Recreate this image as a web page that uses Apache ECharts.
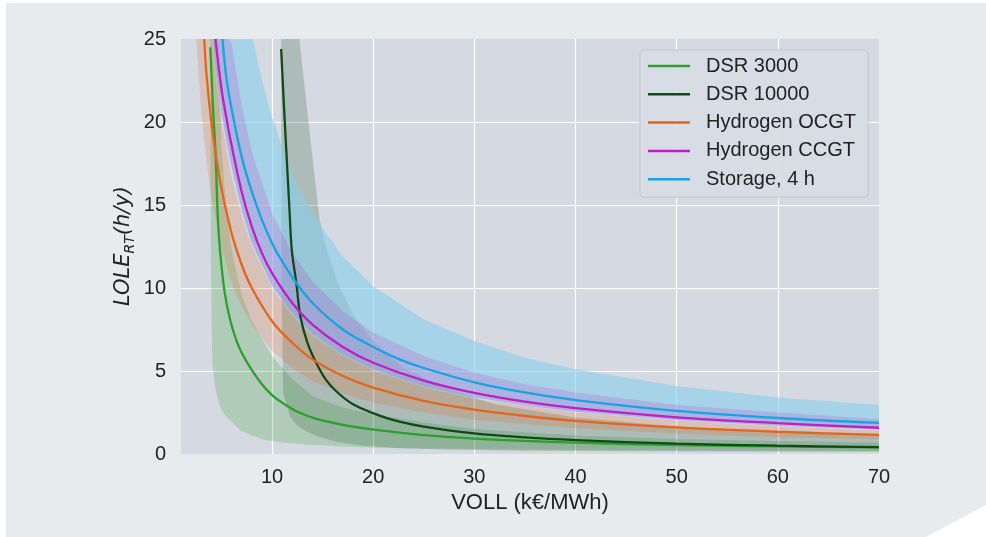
<!DOCTYPE html>
<html>
<head>
<meta charset="utf-8">
<script src="https://cdn.jsdelivr.net/npm/echarts@6/dist/echarts.min.js"></script>
<style>
  html, body { margin: 0; padding: 0; background: #ffffff; }
  #bg {
    position: absolute; left: 6px; top: 3px; width: 980px; height: 534px;
    background: #e8ebee;
    clip-path: polygon(0 0, 980px 0, 980px 502px, 920px 534px, 0 534px);
  }
  #chart { position: absolute; left: 0; top: 0; width: 986px; height: 537px; }
</style>
</head>
<body>
<div id="bg"></div>
<div id="chart"></div>
<script>
// lines
var dsr3kX = [3.9, 4.15, 4.4, 4.65, 4.85, 5.3, 5.85, 6.5, 7.0, 7.8, 9.0, 10.0, 11.1, 12.5, 14.4, 17, 20.7, 25, 30, 35, 40, 50, 60, 70];
var dsr3kY = [24.5, 21, 18.3, 14.1, 12.3, 9.8, 8.1, 6.8, 6.1, 5.25, 4.2, 3.55, 3.05, 2.55, 2.12, 1.76, 1.42, 1.14, 0.93, 0.79, 0.68, 0.54, 0.46, 0.4];
var dsr10kX = [10.9, 11.15, 11.4, 11.7, 11.95, 12.4, 12.8, 13.5, 14.4, 15.3, 16.4, 18, 20.7, 22.6, 25, 30, 35, 40, 50, 60, 70];
var dsr10kY = [24.4, 21.3, 18.4, 15, 12.3, 10.3, 8.3, 6.7, 5.45, 4.5, 3.75, 3.0, 2.3, 1.95, 1.65, 1.24, 1.0, 0.84, 0.62, 0.5, 0.41];
var ocgtX = [3.3, 3.5, 4, 4.5, 5, 6, 7, 8, 10, 12, 14, 17, 20, 25, 30, 35, 40, 50, 60, 70];
var ocgtY = [25, 23, 20, 17.8, 16, 13.3, 11.4, 10, 8, 6.7, 5.7, 4.7, 4.0, 3.2, 2.67, 2.29, 2.0, 1.6, 1.34, 1.15];
var ccgtX = [4.4, 5, 5.5, 6, 7, 8, 9, 10, 12, 14, 17, 20, 25, 30, 35, 40, 50, 60, 70];
var ccgtY = [25, 22, 20.2, 18.6, 15.8, 13.7, 12.1, 10.9, 9.1, 7.8, 6.45, 5.5, 4.42, 3.68, 3.15, 2.76, 2.21, 1.86, 1.58];
var storX = [5.1, 5.5, 6, 7, 8, 9, 10, 11, 12.4, 14, 17, 20, 22.6, 25, 30, 35, 40, 50, 60, 70];
var storY = [25, 22.6, 20.8, 17.9, 15.8, 14.1, 12.7, 11.6, 10.3, 9.1, 7.5, 6.45, 5.7, 5.18, 4.32, 3.71, 3.25, 2.6, 2.17, 1.87];

// shaded ranges: upper edge and lower edge
var dsr3kUpX = [3.9, 4.7, 5, 5.5, 6, 7, 8, 10, 12, 14, 17, 20, 25, 30, 40, 50, 60, 70];
var dsr3kUpY = [25, 25, 18.5, 14.5, 12.3, 9.6, 8.0, 5.9, 4.5, 3.5, 2.8, 2.4, 1.9, 1.5, 1.12, 0.9, 0.78, 0.68];
var dsr3kLoX = [3.9, 3.95, 4.1, 4.4, 4.85, 5.2, 5.7, 6.2, 6.8, 8, 9.1, 11, 14.1, 17, 20.7, 25, 30.5, 40, 50, 60, 70];
var dsr3kLoY = [25, 12, 5.4, 3.9, 2.85, 2.45, 2.1, 1.85, 1.45, 1.1, 0.88, 0.7, 0.54, 0.45, 0.38, 0.33, 0.3, 0.25, 0.22, 0.2, 0.18];
var dsr10kUpX = [10.9, 12.7, 13.6, 14.7, 15.4, 16.5, 18, 20, 23, 27, 32, 40, 50, 60, 70];
var dsr10kUpY = [25, 25, 20, 14.1, 12.3, 10.3, 8.4, 6.8, 5.2, 4.0, 3.0, 2.2, 1.65, 1.35, 1.15];
var dsr10kLoX = [10.9, 10.95, 11.1, 11.8, 12.5, 13.4, 14.8, 16.4, 19, 22.6, 27, 35, 45, 55, 70];
var dsr10kLoY = [25, 10, 3.66, 2.25, 1.7, 1.35, 1.0, 0.74, 0.5, 0.34, 0.27, 0.2, 0.17, 0.15, 0.13];
var ocgtUpX = [2.5, 4.0, 4.5, 5, 6, 7, 8, 10, 12, 14, 17, 20, 25, 30, 40, 50, 60, 70];
var ocgtUpY = [25, 25, 22.2, 20, 16.7, 14.3, 12.5, 10, 8.3, 7.1, 5.9, 5.0, 4.0, 3.3, 2.5, 2.0, 1.65, 1.42];
var ocgtLoX = [2.5, 3, 3.5, 4, 5, 6, 7, 8, 10, 12, 14, 17, 20, 25, 30, 40, 50, 60, 70];
var ocgtLoY = [25, 20.7, 17.7, 15.5, 12.4, 10.3, 8.9, 7.8, 6.2, 5.2, 4.4, 3.65, 3.1, 2.5, 2.07, 1.55, 1.24, 1.0, 0.88];
var ccgtUpX = [4.1, 5.8, 6, 7, 8, 10, 12, 14, 17, 20, 25, 30, 35, 40, 50, 60, 70];
var ccgtUpY = [25, 25, 24.7, 21, 18.2, 14.5, 12.1, 10.4, 8.6, 7.3, 5.9, 4.9, 4.2, 3.7, 2.95, 2.5, 2.1];
var ccgtLoX = [4.1, 4.4, 5, 5.5, 6, 7, 8, 10, 12, 14, 17, 20, 25, 30, 35, 40, 50, 60, 70];
var ccgtLoY = [25, 23.3, 20.5, 18.8, 17.3, 14.7, 12.7, 10.1, 8.5, 7.25, 6.0, 5.1, 4.1, 3.4, 2.9, 2.55, 2.05, 1.7, 1.47];
var storUpX = [4.6, 8.1, 9, 10, 11, 12, 13, 14.5, 17, 20, 25, 30, 35, 40, 50, 60, 70];
var storUpY = [25, 25, 22.5, 20.3, 18.5, 16.9, 15.6, 14.0, 11.9, 10.1, 8.1, 6.8, 5.8, 5.1, 4.1, 3.4, 2.95];
var storLoX = [4.6, 5, 6, 7, 8, 10, 12, 14, 17, 20, 25, 30, 40, 50, 60, 70];
var storLoY = [25, 20.5, 17.3, 14.7, 12.7, 10.1, 8.5, 7.25, 6.0, 5.1, 4.1, 3.4, 2.55, 2.05, 1.7, 1.47];

var names = ['DSR 3000', 'DSR 10000', 'Hydrogen OCGT', 'Hydrogen CCGT', 'Storage, 4 h'];
var colors = ['#2ca02c', '#0f4a17', '#e2661b', '#c01fc4', '#18a3e2'];

function zip(xs, ys) {
  var out = [];
  for (var i = 0; i < xs.length; i++) out.push([xs[i], ys[i]]);
  return out;
}

// band as one polygon: upper edge left->right, then lower edge right->left
function band(name, upX, upY, loX, loY, fill) {
  var pts = zip(upX, upY).concat(zip(loX, loY).reverse());
  return {
    type: 'custom',
    name: name,
    silent: true,
    clip: true,
    z: 1,
    data: [pts[0]],
    renderItem: function (params, api) {
      var poly = pts.map(function (p) { return api.coord(p); });
      return { type: 'polygon', shape: { points: poly }, style: { fill: fill } };
    }
  };
}

function line(i, xs, ys) {
  return {
    type: 'line',
    name: names[i],
    data: zip(xs, ys),
    symbol: 'none',
    showSymbol: false,
    smooth: 0.35,
    z: 3,
    color: colors[i],
    lineStyle: { width: 2.3, color: colors[i] }
  };
}

var chart = echarts.init(document.getElementById('chart'));
var font = 'Liberation Sans, Arial, sans-serif';
var option = {
  backgroundColor: 'transparent',
  animation: false,
  grid: {
    left: 181, right: 107, top: 39, bottom: 83,
    show: true, backgroundColor: '#d5d9e1', borderWidth: 0
  },
  // y axis title (italic, with subscript)
  graphic: [{
    type: 'text',
    x: 124, y: 246,
    rotation: Math.PI / 2,
    style: {
      text: '{i|LOLE}{s|RT}{i|(h/y)}',
      align: 'center', verticalAlign: 'middle',
      rich: {
        i: { fontFamily: 'DejaVu Sans', fontStyle: 'italic', fontSize: 21, fill: '#222', lineHeight: 26 },
        s: { fontFamily: 'DejaVu Sans', fontStyle: 'italic', fontSize: 14, fill: '#222', lineHeight: 14, verticalAlign: 'bottom' }
      }
    }
  }],
  legend: {
    data: names.map(function (n) { return { name: n, icon: 'rect' }; }),
    orient: 'vertical',
    left: 640, top: 50,
    padding: [5, 12, 7, 8],
    itemWidth: 42, itemHeight: 2.5, itemGap: 6.3,
    backgroundColor: 'rgba(216,220,228,0.92)',
    borderColor: '#c3c7cf', borderWidth: 1, borderRadius: 4,
    textStyle: { fontFamily: font, fontSize: 20, color: '#222', lineHeight: 22, padding: [0, 0, 0, 11] }
  },
  xAxis: {
    type: 'value', min: 1, max: 70, splitNumber: 7,
    name: 'VOLL (k€/MWh)', nameLocation: 'middle', nameGap: 33,
    nameTextStyle: { fontFamily: font, fontSize: 22, color: '#222' },
    axisLine: { show: false }, axisTick: { show: false },
    axisLabel: { fontFamily: font, fontSize: 20, color: '#222', margin: 13, showMinLabel: false },
    splitLine: { show: true, showMinLine: false, showMaxLine: false, lineStyle: { color: '#ffffff', width: 1.2 } }
  },
  yAxis: {
    type: 'value', min: 0, max: 25, interval: 5,
    axisLine: { show: false }, axisTick: { show: false },
    axisLabel: { fontFamily: font, fontSize: 20, color: '#222', margin: 15 },
    splitLine: { show: true, showMinLine: false, showMaxLine: false, lineStyle: { color: '#ffffff', width: 1.2 } }
  },
  series: [
    band('DSR 3000 range', dsr3kUpX, dsr3kUpY, dsr3kLoX, dsr3kLoY, 'rgba(44,160,44,0.22)'),
    band('DSR 10000 range', dsr10kUpX, dsr10kUpY, dsr10kLoX, dsr10kLoY, 'rgba(15,74,23,0.2)'),
    band('Hydrogen OCGT range', ocgtUpX, ocgtUpY, ocgtLoX, ocgtLoY, 'rgba(226,102,27,0.2)'),
    band('Storage, 4 h range', storUpX, storUpY, storLoX, storLoY, 'rgba(135,206,235,0.6)'),
    band('Hydrogen CCGT range', ccgtUpX, ccgtUpY, ccgtLoX, ccgtLoY, 'rgba(192,31,196,0.18)'),
    line(0, dsr3kX, dsr3kY),
    line(1, dsr10kX, dsr10kY),
    line(2, ocgtX, ocgtY),
    line(3, ccgtX, ccgtY),
    line(4, storX, storY)
  ]
};
chart.setOption(option);
</script>
</body>
</html>
